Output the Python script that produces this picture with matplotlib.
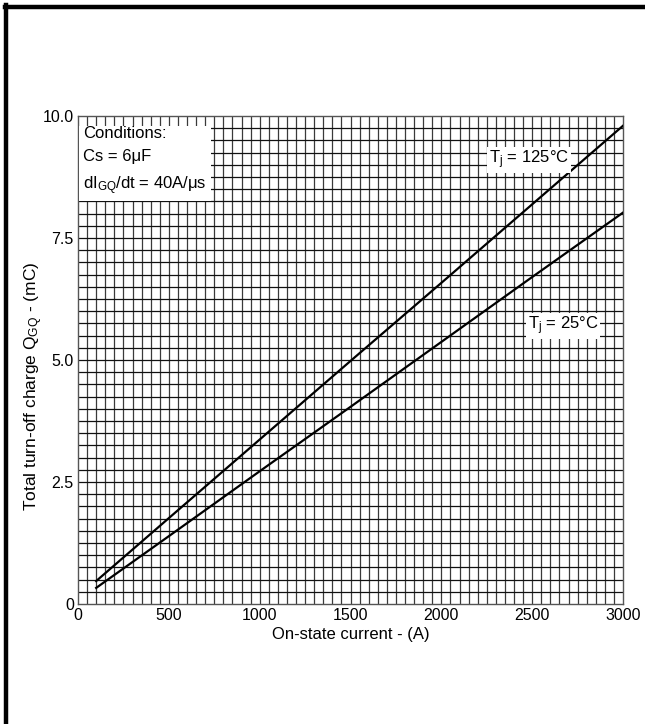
import numpy as np
import matplotlib.pyplot as plt
from matplotlib.lines import Line2D

plt.rcParams['font.family'] = ['Liberation Sans', 'DejaVu Sans']
plt.rcParams['mathtext.fontset'] = 'custom'
plt.rcParams['mathtext.rm'] = 'Liberation Sans'
plt.rcParams['mathtext.it'] = 'Liberation Sans'

# values
current = [100, 500, 1000, 1500, 2000, 2500, 3000]
q_125 = [0.47, 1.76, 3.37, 4.98, 6.58, 8.19, 9.80]
q_25 = [0.33, 1.39, 2.72, 4.04, 5.37, 6.70, 8.02]

xticks = [0, 500, 1000, 1500, 2000, 2500, 3000]
yticks = [0, 2.5, 5.0, 7.5, 10.0]
ytick_labels = ['0', '2.5', '5.0', '7.5', '10.0']

fig = plt.figure(figsize=(6.45, 7.24), dpi=100)
ax = fig.add_axes([78 / 645, 1 - 604 / 724, 545 / 645, 488 / 724])

# fine grid
for gx in np.arange(50, 3000, 50):
    ax.axvline(gx, color='#3a3a3a', lw=0.9, zorder=1)
for gy in np.arange(0.25, 10.0, 0.25):
    ax.axhline(gy, color='#111111', lw=0.9, zorder=1)

ax.plot(current, q_125, color='black', lw=1.6, zorder=3)
ax.plot(current, q_25, color='black', lw=1.6, zorder=3)

ax.set_xlim(0, 3000)
ax.set_ylim(0, 10)
ax.set_xticks(xticks)
ax.set_yticks(yticks)
ax.set_yticklabels(ytick_labels)
ax.tick_params(length=0, labelsize=11.5, pad=3)
for s in ax.spines.values():
    s.set_color('#555555')
    s.set_linewidth(1.0)

ax.set_xlabel('On-state current - (A)', fontsize=12, labelpad=3)
ax.set_ylabel('Total turn-off charge Q$_{GQ}$ - (mC)', fontsize=12.5)
ax.yaxis.set_label_coords(-0.06, 0.445)

ax.text(30, 9.8, 'Conditions:\nCs = 6\u03bcF\ndI$_{GQ}$/dt = 40A/\u03bcs',
        fontsize=12, va='top', ha='left', linespacing=1.7,
        bbox=dict(facecolor='white', edgecolor='none', pad=3), zorder=4)
box = dict(facecolor='white', edgecolor='none', pad=1.5)
ax.text(2485, 9.1, 'T$_j$ = 125\u00b0C', fontsize=12, ha='center', va='center',
        bbox=box, zorder=4)
ax.text(2670, 5.7, 'T$_j$ = 25\u00b0C', fontsize=12, ha='center', va='center',
        bbox=box, zorder=4)

# page frame
fig.add_artist(Line2D([5 / 645, 1], [1 - 6.5 / 724, 1 - 6.5 / 724],
                      color='black', lw=3.2, transform=fig.transFigure))
fig.add_artist(Line2D([5.5 / 645, 5.5 / 645], [0, 1 - 5 / 724],
                      color='black', lw=3.2, transform=fig.transFigure))

fig.savefig('out.png', dpi=100)
